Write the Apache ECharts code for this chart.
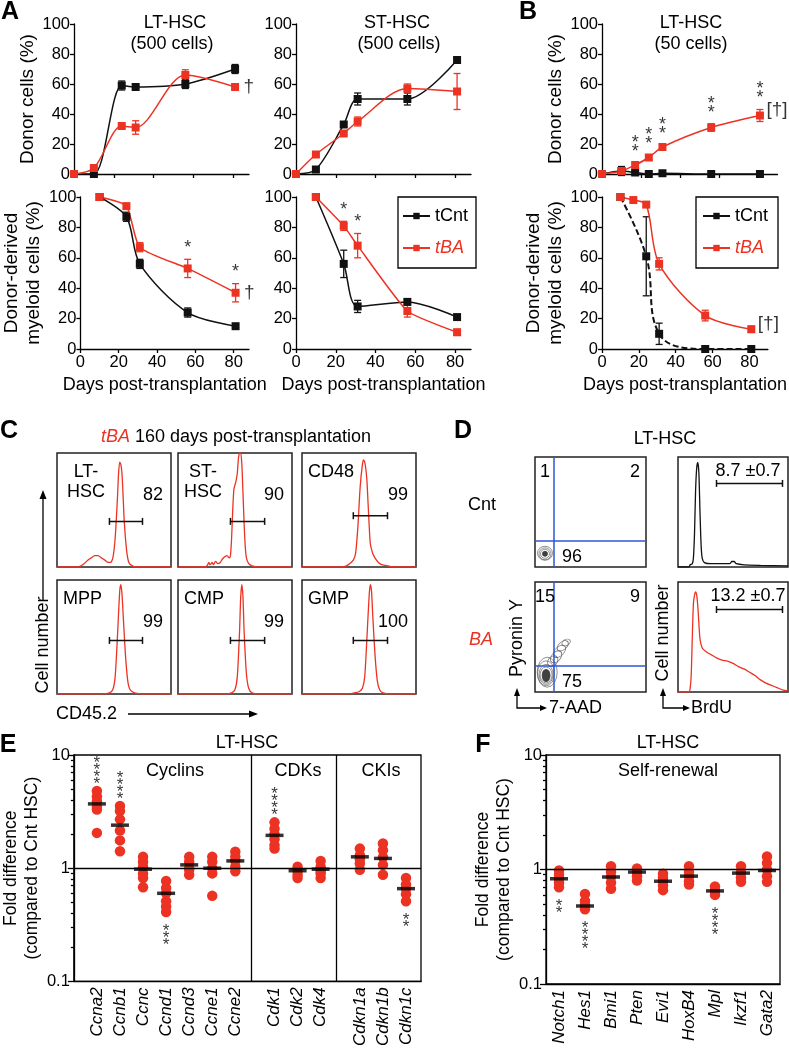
<!DOCTYPE html>
<html><head><meta charset="utf-8">
<script src="https://cdn.jsdelivr.net/npm/echarts@6.0.0/dist/echarts.min.js"></script>
<style>html,body{margin:0;padding:0;background:#fff;}#c{width:789px;height:1049px;}</style>
</head><body><div id="c"></div>
<script>
const FONT = 'Arial, "Liberation Sans", Helvetica, sans-serif';
const RED = '#ec3323';
const BLK = '#111111';
const BLUE = '#2f55d4';

// ---------------- Panel A / B data ----------------
const dayTicks = [0, 20, 40, 60, 80];
const daysA = [0, 10, 24, 31, 56, 81];
const daysAMy = [10, 24, 31, 56, 81];
const daysB = [0, 10, 17, 24, 31, 56, 81];
const daysBMyBA = [10, 17, 24, 31, 56, 81];
const daysBMyCnt = [10, 24, 31, 56, 81];

const ltDonorCnt = [0, 0, 59, 58, 60, 70];
const ltDonorCntErr = [0, 0, 3, 1, 3, 3];
const ltDonorBA = [0, 4, 32, 31, 66, 58];
const ltDonorBAErr = [0, 1, 1.5, 4.5, 3.5, 2];

const stDonorCnt = [0, 3, 33, 50, 50, 76];
const stDonorCntErr = [0, 1, 1.5, 4, 4, 1];
const stDonorBA = [0, 13, 27, 35, 57, 55];
const stDonorBAErr = [0, 1, 1, 3, 3, 12];

const ltMyCnt = [100, 87, 56, 24, 15];
const ltMyCntErr = [0, 3, 3, 3, 1];
const ltMyBA = [100, 94, 67, 53, 37];
const ltMyBAErr = [0, 1.5, 3, 6, 6];
const ltMySig = ['', '', '', '*', '*'];

const stMyCnt = [100, 56, 28, 31, 21];
const stMyCntErr = [0, 9, 4, 2, 1];
const stMyBA = [100, 81, 68, 25, 11];
const stMyBAErr = [0, 3, 8, 4, 2];
const stMySig = ['', '*', '*', '', ''];

const b50DonorCnt = [0, 2, 1, 0, 0.5, 0, 0];
const b50DonorCntErr = [0, 3, 1, 0, 0.5, 0, 0];
const b50DonorBA = [0, 2, 6, 11, 18, 31, 39];
const b50DonorBAErr = [0, 1, 1, 1.5, 1.5, 2.5, 4];
const b50DonorSig = ['', '', '**', '**', '**', '**', '**'];

const b50MyCnt = [100, 61, 10, 0, 0];
const b50MyCntErr = [0, 26, 7, 0, 0];
const b50MyBA = [100, 98, 95, 56, 22, 13];
const b50MyBAErr = [0, 1, 1, 4, 3.5, 2];

// ---------------- Panel C data ----------------
const cNames = ['LT-\nHSC', 'ST-\nHSC', 'CD48', 'MPP', 'CMP', 'GMP'];
const cPercents = ['82', '90', '99', '99', '99', '100'];
const cHistLT = [[0,0],[18,0],[21,1],[24,3],[27,6],[30,8],[33,10],[36,10],[39,8],[42,6],[45,4],[47,4],[49,8],[51,25],[53,60],[54,82],[55,92],[56,90],[57,82],[58,62],[59,40],[61,15],[63,4],[66,1],[70,0],[100,0]];
const cHistST = [[0,0],[24,0],[26,2],[27,4],[28,2],[30,4],[31,2],[33,5],[35,3],[37,4],[39,7],[41,9],[43,10],[45,8],[46,10],[47,25],[48,50],[49,68],[50,72],[51,76],[52,82],[53,95],[54,100],[55,100],[56,90],[57,65],[58,38],[59,18],[60,8],[62,3],[65,1],[70,0],[100,0]];
const cHistCD48 = [[0,0],[35,0],[39,1],[42,3],[45,6],[47,12],[49,35],[51,70],[53,90],[54,94],[55,92],[56,86],[57,75],[58,55],[59,35],[60,20],[62,12],[64,8],[67,4],[70,2],[75,1],[82,0],[100,0]];
const cHistMPP = [[0,0],[40,0],[46,1],[49,4],[51,15],[53,50],[55,90],[56,96],[57,88],[58,70],[60,35],[62,12],[64,4],[68,1],[75,0],[100,0]];
const cHistCMP = [[0,0],[42,0],[47,1],[50,4],[52,15],[54,55],[55,85],[56,96],[57,85],[58,55],[60,18],[62,5],[65,1],[72,0],[100,0]];
const cHistGMP = [[0,0],[40,0],[46,1],[50,2],[53,5],[55,15],[57,50],[59,88],[60,96],[61,90],[62,70],[64,35],[66,12],[68,4],[71,1],[78,0],[100,0]];
const cHists = [cHistLT, cHistST, cHistCD48, cHistMPP, cHistCMP, cHistGMP];
const cGates = [[46,75,40],[46,76,40],[45,75,45],[46,75,47],[46,76,47],[45,75,47]];

// ---------------- Panel D data ----------------
const dQuadCnt = ['1', '2', '96'];
const dQuadBA = ['15', '9', '75'];
const dGateLine = [17, 24];
// contour ellipses: [x, y, w(px), h(px), rotation, filled]
const dContourCnt = [[9,12.5,15,14,0,0],[9,12,12,12,0,0],[9,12,9,9,0,0],[9,12,5,5,0,1]];
const dContourBA = [[11,18,20,30,0,0],[10,17,17,25,0,0],[10,16,14,20,0,0],[10,15.5,12,16,0,0],[16,28,12,9,50,0],[19,32,14,9,50,0],[22,37,15,9,45,0],[25,42,13,8,40,0],[28,45,9,6,30,0],[10,15,8,12,0,1]];
const dBrduCnt = [[0,0],[10,0],[11,2],[13,3],[14,8],[15,30],[16,70],[17,90],[18,95],[19,85],[20,50],[21,20],[22,8],[24,4],[30,3],[40,3],[47,3],[49,5],[51,5],[53,3],[60,2],[75,1.5],[100,1]];
const dBrduBA = [[0,0],[10,0],[11,3],[12,15],[13,50],[14,80],[15,88],[16,91],[17,88],[18,78],[19,62],[20,48],[22,40],[25,37],[30,34],[35,31],[40,29],[45,28],[50,26],[55,23],[60,21],[65,18],[70,15],[75,11],[80,8],[85,6],[90,4],[95,2],[100,1]];
const dBrduText = ['8.7 \u00b10.7', '13.2 \u00b10.7'];
const dBrduGates = [[35,95,76],[35,95,75]];

// ---------------- Panel E data ----------------
const eGroups = ['Cyclins', 'CDKs', 'CKIs'];
const eGenes = ['Ccna2','Ccnb1','Ccnc','Ccnd1','Ccnd3','Ccne1','Ccne2','Cdk1','Cdk2','Cdk4','Cdkn1a','Cdkn1b','Cdkn1c'];
const eGeneGroup = [0,0,0,0,0,0,0,1,1,1,2,2,2];
const eDots = [
  [4.8, 4.3, 3.9, 3.5, 3.3, 2.05],
  [3.55, 3.2, 2.7, 2.15, 1.76, 1.41],
  [1.26, 1.14, 1.03, 0.9, 0.82, 0.68],
  [0.77, 0.67, 0.6, 0.51, 0.46, 0.41],
  [1.26, 1.14, 1.0, 0.97, 0.875],
  [1.26, 1.14, 1.0, 0.9, 0.57],
  [1.4, 1.26, 1.16, 1.03, 0.94],
  [2.54, 2.23, 2.0, 1.8, 1.6, 1.49],
  [1.03, 0.95, 0.875, 0.82],
  [1.16, 1.03, 0.95, 0.9, 0.82],
  [1.49, 1.3, 1.2, 1.1, 0.97],
  [1.65, 1.44, 1.25, 1.07, 0.875],
  [0.82, 0.72, 0.66, 0.59, 0.51]
];
const eMeans = [3.7, 2.4, 0.98, 0.6, 1.07, 1.0, 1.16, 1.95, 0.95, 0.98, 1.26, 1.22, 0.66];
const eSig = ['****','****','','***','','','','****','','','','','**'];
const eSigDir = ['up','up','','down','','','','up','','','','','down'];

// ---------------- Panel F data ----------------
const fGenes = ['Notch1','Hes1','Bmi1','Pten','Evi1','HoxB4','Mpl','Ikzf1','Gata2'];
const fDots = [
  [0.98, 0.9, 0.83, 0.765, 0.7],
  [0.61, 0.53, 0.49, 0.45],
  [1.07, 0.95, 0.86, 0.765, 0.68],
  [1.02, 0.95, 0.875, 0.8],
  [0.92, 0.85, 0.79, 0.72, 0.66],
  [1.07, 0.95, 0.875, 0.79, 0.74],
  [0.71, 0.65, 0.6],
  [1.07, 0.94, 0.85, 0.78],
  [1.3, 1.14, 1.0, 0.875, 0.78]
];
const fMeans = [0.83, 0.48, 0.86, 0.95, 0.79, 0.875, 0.65, 0.93, 0.98];
const fSig = ['**','****','','','','','****','',''];
const fSigDir = ['down','down','','','','','down','',''];

const logMinor = [0.2,0.3,0.4,0.5,0.6,0.7,0.8,0.9,2,3,4,5,6,7,8,9];

// ================= building =================
const grids = [], xAxes = [], yAxes = [], series = [], graphics = [];
function addGrid(g) { grids.push(g); return grids.length - 1; }
const axisLine = {show: true, onZero: false, lineStyle: {color: '#000', width: 1.3}};
const tickStyle = {color: '#000', width: 1.3};
const lbl = (o) => Object.assign({fontSize: 16, color: '#000', fontFamily: FONT}, o || {});
const HIDE = 'rgba(0,0,0,0)';
const stack = s => s.split('').join('\n');   // vertical stack of asterisks

function lineChart(left, top, width, height, xMax, showX, yName, yGap) {
  const gi = addGrid({left, top, width, height});
  const xi = xAxes.push({type: 'value', gridIndex: gi, min: 0, max: xMax,
    axisLine, axisTick: {show: true, length: 4, lineStyle: tickStyle, customValues: dayTicks},
    axisLabel: lbl({show: showX, customValues: dayTicks, margin: 5, fontSize: 16.5}),
    splitLine: {show: false},
    name: showX ? 'Days post-transplantation' : '', nameLocation: 'middle', nameGap: 27,
    nameTextStyle: lbl({fontSize: 18})}) - 1;
  const yi = yAxes.push({type: 'value', gridIndex: gi, min: 0, max: 100, interval: 20,
    axisLine, axisTick: {show: true, length: 4, lineStyle: tickStyle},
    axisLabel: lbl({margin: 4, fontSize: 16.5}), splitLine: {show: false},
    name: yName, nameLocation: 'middle', nameGap: yGap, nameRotate: 90,
    nameTextStyle: lbl({fontSize: 19, lineHeight: 22})}) - 1;
  return {xi, yi};
}
function line(ax, name, xs, ys, color, extra) {
  series.push(Object.assign({type: 'line', name, xAxisIndex: ax.xi, yAxisIndex: ax.yi,
    data: xs.map((x, i) => [x, ys[i]]), smooth: 0.3, symbol: 'rect', symbolSize: 8,
    showAllSymbol: true, lineStyle: {color, width: 1.5}, itemStyle: {color}, z: 5, silent: true}, extra || {}));
}
function errBars(ax, xs, ys, errs, color) {
  series.push({type: 'custom', xAxisIndex: ax.xi, yAxisIndex: ax.yi, silent: true, z: 4,
    data: xs.map((x, i) => [x, ys[i], errs[i]]).filter(d => d[2] > 0),
    renderItem(p, api) {
      const x = api.value(0), y = api.value(1), e = api.value(2);
      const lo = api.coord([x, y - e]), hi = api.coord([x, y + e]);
      const w = 3.5, st = {stroke: color, lineWidth: 1.3};
      return {type: 'group', children: [
        {type: 'line', shape: {x1: lo[0], y1: lo[1], x2: hi[0], y2: hi[1]}, style: st},
        {type: 'line', shape: {x1: lo[0] - w, y1: lo[1], x2: lo[0] + w, y2: lo[1]}, style: st},
        {type: 'line', shape: {x1: hi[0] - w, y1: hi[1], x2: hi[0] + w, y2: hi[1]}, style: st}]};
    }});
}
function sigMarks(ax, xs, ys, errs, marks, vertical) {
  const data = [];
  xs.forEach((x, i) => { if (marks[i]) data.push({value: [x, ys[i] + errs[i]], name: vertical ? stack(marks[i]) : marks[i]}); });
  series.push({type: 'scatter', xAxisIndex: ax.xi, yAxisIndex: ax.yi, symbolSize: 1,
    itemStyle: {color: HIDE}, silent: true, z: 6, data,
    label: vertical
      ? lbl({show: true, formatter: p => p.name, position: 'top', distance: 6, lineHeight: 9, fontSize: 18})
      : lbl({show: true, formatter: p => p.name, position: 'top', distance: 2, fontSize: 18})});
}
function tag(ax, x, y, text, offset) {
  series.push({type: 'scatter', xAxisIndex: ax.xi, yAxisIndex: ax.yi, symbolSize: 1,
    itemStyle: {color: HIDE}, silent: true, z: 6, data: [{value: [x, y], name: text}],
    label: lbl({show: true, formatter: p => p.name, position: 'right', distance: 8, fontSize: 19, offset: offset || [0, 0]})});
}

// ---- Panel A ----
const axLTd = lineChart(74, 24, 175, 150, 88, false, 'Donor cells (%)', 33);
line(axLTd, 'tCnt', daysA, ltDonorCnt, BLK);
errBars(axLTd, daysA, ltDonorCnt, ltDonorCntErr, BLK);
line(axLTd, 'tBA', daysA, ltDonorBA, RED);
errBars(axLTd, daysA, ltDonorBA, ltDonorBAErr, RED);
tag(axLTd, daysA[5], ltDonorBA[5], '\u2020');

const axSTd = lineChart(296, 24, 175, 150, 88, false, '', 30);
line(axSTd, 'tCnt', daysA, stDonorCnt, BLK);
errBars(axSTd, daysA, stDonorCnt, stDonorCntErr, BLK);
line(axSTd, 'tBA', daysA, stDonorBA, RED);
errBars(axSTd, daysA, stDonorBA, stDonorBAErr, RED);

const axB50d = lineChart(602, 24, 175.5, 150, 90, false, 'Donor cells (%)', 33);
line(axB50d, 'tCnt', daysB, b50DonorCnt, BLK);
errBars(axB50d, daysB, b50DonorCnt, b50DonorCntErr, BLK);
line(axB50d, 'tBA', daysB, b50DonorBA, RED);
errBars(axB50d, daysB, b50DonorBA, b50DonorBAErr, RED);
sigMarks(axB50d, daysB, b50DonorBA, b50DonorBAErr, b50DonorSig, true);
tag(axB50d, daysB[6], b50DonorBA[6], '[\u2020]', [-2, -6]);

const axLTm = lineChart(74, 197, 175, 152, 88, true, 'Donor-derived\nmyeloid cells (%)', 26);
line(axLTm, 'tCnt', daysAMy, ltMyCnt, BLK);
errBars(axLTm, daysAMy, ltMyCnt, ltMyCntErr, BLK);
line(axLTm, 'tBA', daysAMy, ltMyBA, RED, {smooth: 0.2});
errBars(axLTm, daysAMy, ltMyBA, ltMyBAErr, RED);
sigMarks(axLTm, daysAMy, ltMyBA, ltMyBAErr, ltMySig, false);
tag(axLTm, daysAMy[4], ltMyBA[4], '\u2020');

const axSTm = lineChart(296, 197, 175, 152, 88, true, '', 30);
line(axSTm, 'tCnt', daysAMy, stMyCnt, BLK);
errBars(axSTm, daysAMy, stMyCnt, stMyCntErr, BLK);
line(axSTm, 'tBA', daysAMy, stMyBA, RED, {smooth: 0.15});
errBars(axSTm, daysAMy, stMyBA, stMyBAErr, RED);
sigMarks(axSTm, daysAMy, stMyBA, stMyBAErr, stMySig, false);

const axB50m = lineChart(602, 197, 175.5, 152, 90, true, 'Donor-derived\nmyeloid cells (%)', 26);
line(axB50m, 'tCnt', daysBMyCnt, b50MyCnt, BLK, {lineStyle: {color: BLK, width: 2, type: [6, 3]}, smooth: 0.4});
errBars(axB50m, daysBMyCnt, b50MyCnt, b50MyCntErr, BLK);
line(axB50m, 'tBA', daysBMyBA, b50MyBA, RED);
errBars(axB50m, daysBMyBA, b50MyBA, b50MyBAErr, RED);
tag(axB50m, daysBMyBA[5], b50MyBA[5], '[\u2020]', [-2, -5]);

// ---- Panel C ----
const cBoxes = [[57,453],[178,453],[302,453],[57,580],[178,580],[302,580]];
function boxGrid(left, top, w, h) {
  const gi = addGrid({left, top, width: w, height: h, show: true, borderColor: '#222', borderWidth: 1.5, backgroundColor: 'transparent'});
  const xi = xAxes.push({type: 'value', gridIndex: gi, min: 0, max: 100, show: false}) - 1;
  const yi = yAxes.push({type: 'value', gridIndex: gi, min: 0, max: 100, show: false}) - 1;
  return {xi, yi};
}
function gate(ax, g) {
  series.push({type: 'custom', xAxisIndex: ax.xi, yAxisIndex: ax.yi, silent: true, z: 6, data: [g],
    renderItem(p, api) {
      const a = api.coord([api.value(0), api.value(2)]), b = api.coord([api.value(1), api.value(2)]);
      const st = {stroke: '#111', lineWidth: 1.5};
      return {type: 'group', children: [
        {type: 'line', shape: {x1: a[0], y1: a[1], x2: b[0], y2: b[1]}, style: st},
        {type: 'line', shape: {x1: a[0], y1: a[1] - 3.5, x2: a[0], y2: a[1] + 3.5}, style: st},
        {type: 'line', shape: {x1: b[0], y1: b[1] - 3.5, x2: b[0], y2: b[1] + 3.5}, style: st}]};
    }});
}
function histLine(ax, data, color) {
  series.push({type: 'line', xAxisIndex: ax.xi, yAxisIndex: ax.yi, data, symbol: 'none', smooth: 0.25,
    lineStyle: {color, width: 1.3}, silent: true, z: 4, clip: true});
}
cBoxes.forEach((b, i) => {
  const ax = boxGrid(b[0], b[1], 114, 114);
  histLine(ax, cHists[i], RED);
  gate(ax, cGates[i]);
});

// ---- Panel D ----
const dBoxes = [[535,457],[535,582]];
const dHistBoxes = [[678,457],[678,582]];
[dContourCnt, dContourBA].forEach((cont, i) => {
  const ax = boxGrid(dBoxes[i][0], dBoxes[i][1], 111, 110);
  series.push({type: 'scatter', xAxisIndex: ax.xi, yAxisIndex: ax.yi, silent: true, z: 4,
    symbol: 'circle',
    symbolSize: v => [v[2], v[3]], symbolRotate: v => v[4],
    data: cont.map(c => ({value: c, itemStyle: c[5] ? {color: '#111', borderColor: '#333', borderWidth: 1}
      : {color: HIDE, borderColor: '#555', borderWidth: 0.8}})),
    markLine: {silent: true, symbol: ['none', 'none'], label: {show: false},
      lineStyle: {color: BLUE, width: 1.5, type: 'solid'},
      data: [{xAxis: dGateLine[0]}, {yAxis: dGateLine[1]}]}});
});
[dBrduCnt, dBrduBA].forEach((h, i) => {
  const ax = boxGrid(dHistBoxes[i][0], dHistBoxes[i][1], 110, 110);
  histLine(ax, h, i === 0 ? BLK : RED);
  gate(ax, dBrduGates[i]);
});

// ---- Panel E ----
const eGap = 0.7;
const ePos = eGenes.map((g, i) => +(i + eGeneGroup[i] * eGap).toFixed(2));
const eSeps = [];
for (let i = 1; i < eGenes.length; i++) if (eGeneGroup[i] !== eGeneGroup[i - 1]) eSeps.push(+(ePos[i - 1] + 0.68).toFixed(2));

function logY(gi, name, gap) {
  const yi = yAxes.push({type: 'log', logBase: 10, gridIndex: gi, min: 0.1, max: 10, position: 'left',
    axisLine, axisTick: {show: true, length: 6, lineStyle: tickStyle},
    axisLabel: lbl({margin: 4, fontSize: 16.5, formatter: v => String(+v.toPrecision(2))}), splitLine: {show: false},
    name, nameLocation: 'middle', nameGap: gap, nameRotate: 90, nameTextStyle: lbl({fontSize: 17.5, lineHeight: 21})}) - 1;
  yAxes.push({type: 'log', logBase: 10, gridIndex: gi, min: 0.1, max: 10, position: 'left', offset: 0,
    axisLine: {show: false, onZero: false}, axisLabel: {show: false}, splitLine: {show: false},
    axisTick: {show: true, length: 3, lineStyle: tickStyle, customValues: logMinor}});
  return yi;
}
const eGi = addGrid({left: 68, top: 755, width: 353, height: 229, show: true, borderColor: '#000', borderWidth: 1.3});
const eXi = xAxes.push({type: 'value', gridIndex: eGi, min: -1, max: 14.05, axisLine, axisTick: {show: false},
  splitLine: {show: false},
  axisLabel: lbl({customValues: ePos, rotate: 90, fontStyle: 'italic', margin: 6, fontSize: 17,
    formatter: v => { const k = ePos.findIndex(p => Math.abs(p - v) < 1e-6); return k >= 0 ? eGenes[k] : ''; }})}) - 1;
const eYi = logY(eGi, 'Fold difference\n(compared to Cnt HSC)', 26);

function dotSeries(xi, yi, xs, dots, means, sig, dir, markData) {
  const pts = [];
  dots.forEach((arr, i) => arr.forEach(v => pts.push([xs[i], v])));
  series.push({type: 'scatter', xAxisIndex: xi, yAxisIndex: yi, data: pts, symbolSize: 10.5,
    itemStyle: {color: RED, opacity: 1}, silent: true, z: 3,
    markLine: {silent: true, symbol: ['none', 'none'], label: {show: false}, animation: false,
      lineStyle: {color: '#000', width: 1.3, type: 'solid'}, data: markData}});
  series.push({type: 'scatter', xAxisIndex: xi, yAxisIndex: yi, data: means.map((m, i) => [xs[i], m]),
    symbol: 'rect', symbolSize: [18, 3.5], itemStyle: {color: '#000'}, silent: true, z: 4});
  const up = [], down = [];
  sig.forEach((s, i) => {
    if (!s) return;
    if (dir[i] === 'up') up.push({value: [xs[i], Math.max(...dots[i])], name: stack(s)});
    else down.push({value: [xs[i], Math.min(...dots[i])], name: stack(s)});
  });
  series.push({type: 'scatter', xAxisIndex: xi, yAxisIndex: yi, data: up, symbolSize: 1, itemStyle: {color: HIDE}, silent: true, z: 5,
    label: lbl({show: true, formatter: p => p.name, position: 'top', distance: 3, lineHeight: 7, fontSize: 17})});
  series.push({type: 'scatter', xAxisIndex: xi, yAxisIndex: yi, data: down, symbolSize: 1, itemStyle: {color: HIDE}, silent: true, z: 5,
    label: lbl({show: true, formatter: p => p.name, position: 'bottom', distance: 15, lineHeight: 7, fontSize: 17})});
}
dotSeries(eXi, eYi, ePos, eDots, eMeans, eSig, eSigDir, [{yAxis: 1}].concat(eSeps.map(s => ({xAxis: s}))));

// ---- Panel F ----
const fGi = addGrid({left: 546, top: 755, width: 234, height: 229, show: true, borderColor: '#000', borderWidth: 1.3});
const fXi = xAxes.push({type: 'category', gridIndex: fGi, data: fGenes, boundaryGap: true, axisLine, axisTick: {show: false},
  axisLabel: lbl({rotate: 90, interval: 0, fontStyle: 'italic', margin: 6, fontSize: 17})}) - 1;
const fYi = logY(fGi, 'Fold difference\n(compared to Cnt HSC)', 26);
dotSeries(fXi, fYi, fGenes.map((g, i) => i), fDots, fMeans, fSig, fSigDir, [{yAxis: 1}]);

// ================= graphics (text, arrows) =================
function T(x, y, text, o) {
  o = o || {};
  const style = {text, fontSize: o.size || 16, fontFamily: FONT, fontWeight: o.weight || 'normal',
    fontStyle: o.italic ? 'italic' : 'normal', fill: o.color || '#000',
    align: o.align || 'center', verticalAlign: o.va || 'middle'};
  if (o.lh) style.lineHeight = o.lh;
  if (o.rich) style.rich = o.rich;
  graphics.push({type: 'text', x, y, rotation: o.rot || 0, silent: true, z: 10, style});
}
function P(points, w) { graphics.push({type: 'polyline', silent: true, z: 10, shape: {points}, style: {stroke: '#000', lineWidth: w || 1.3, fill: null}}); }
function H(points) { graphics.push({type: 'polygon', silent: true, z: 10, shape: {points}, style: {fill: '#000'}}); }

// panel letters
[['A',10,12],['B',528,12],['C',9,431],['D',463,431],['E',8,745],['F',483,745]].forEach(l => T(l[1], l[2], l[0], {size: 25, weight: 'bold'}));
// A/B titles
T(175, 23, 'LT-HSC', {size: 18}); T(172, 44, '(500 cells)', {size: 18});
T(397, 23, 'ST-HSC', {size: 18}); T(399, 44, '(500 cells)', {size: 18});
T(691, 23, 'LT-HSC', {size: 18}); T(691, 44, '(50 cells)', {size: 18});

// C
T(236, 437, '{r|tBA} 160 days post-transplantation', {size: 18, rich: {r: {fill: RED, fontStyle: 'italic', fontSize: 18, fontFamily: FONT}}});
cBoxes.forEach((b, i) => {
  if (cNames[i].indexOf('\n') >= 0) T(b[0] + (i === 0 ? 29 : 25), b[1] + 9, cNames[i], {size: 18, va: 'top', lh: 20});
  else T(b[0] + 6, b[1] + 10, cNames[i], {size: 18, va: 'top', align: 'left'});
  T(b[0] + 106, b[1] + 42, cPercents[i], {size: 18, align: 'right'});
});
P([[43, 600], [43, 497]]); H([[43, 490], [39.5, 499], [46.5, 499]]);
T(43, 645, 'Cell number', {size: 18, rot: Math.PI / 2});
T(56, 714, 'CD45.2', {size: 18, align: 'left'});
P([[128, 714], [251, 714]]); H([[258, 714], [249, 710.5], [249, 717.5]]);

// D
T(665, 439, 'LT-HSC', {size: 18});
T(468, 505, 'Cnt', {size: 18, align: 'left'});
T(469, 640, 'BA', {size: 18, align: 'left', italic: true, color: RED});
[[dBoxes[0], dQuadCnt], [dBoxes[1], dQuadBA]].forEach(([b, q]) => {
  T(b[0] + 10, b[1] + 15, q[0], {size: 18});
  T(b[0] + 100, b[1] + 15, q[1], {size: 18});
  T(b[0] + 37, b[1] + 100, q[2], {size: 18});
});
dHistBoxes.forEach((b, i) => T(b[0] + 70, b[1] + 14, dBrduText[i], {size: 18}));
T(517, 638, 'Pyronin Y', {size: 18, rot: Math.PI / 2});
P([[517, 695], [517, 708], [541, 708]]); H([[517, 688], [514, 696], [520, 696]]); H([[547, 708], [540, 705], [540, 711]]);
T(549, 708, '7-AAD', {size: 18, align: 'left'});
T(663, 633, 'Cell number', {size: 18, rot: Math.PI / 2});
P([[663, 695], [663, 708], [684, 708]]); H([[663, 688], [660, 696], [666, 696]]); H([[690, 708], [683, 705], [683, 711]]);
T(691, 708, 'BrdU', {size: 18, align: 'left'});

// E / F labels
T(247, 743, 'LT-HSC', {size: 18});
T(175, 771, eGroups[0], {size: 18});
T(298, 771, eGroups[1], {size: 18});
T(381, 771, eGroups[2], {size: 18});
T(668, 743, 'LT-HSC', {size: 18});
T(668, 771, 'Self-renewal', {size: 18});

const legendCommon = {orient: 'vertical', data: ['tCnt', 'tBA'], itemWidth: 27, itemHeight: 8, itemGap: 14,
  borderColor: '#000', borderWidth: 1.3, borderRadius: 0, selectedMode: false,
  formatter: n => n === 'tBA' ? '{i|tBA}' : n,
  textStyle: {fontSize: 18, color: '#000', fontFamily: FONT, rich: {i: {fontStyle: 'italic', color: RED, fontSize: 18, fontFamily: FONT}}}};

const option = {
  animation: false,
  backgroundColor: '#fff',
  textStyle: {fontFamily: FONT},
  grid: grids, xAxis: xAxes, yAxis: yAxes, series,
  legend: [
    Object.assign({left: 398, top: 197, padding: [10, 8, 11, 4]}, legendCommon),
    Object.assign({left: 696, top: 197, padding: [10, 10, 11, 6]}, legendCommon)
  ],
  graphic: graphics
};
const chart = echarts.init(document.getElementById('c'));
chart.setOption(option);
</script></body></html>
